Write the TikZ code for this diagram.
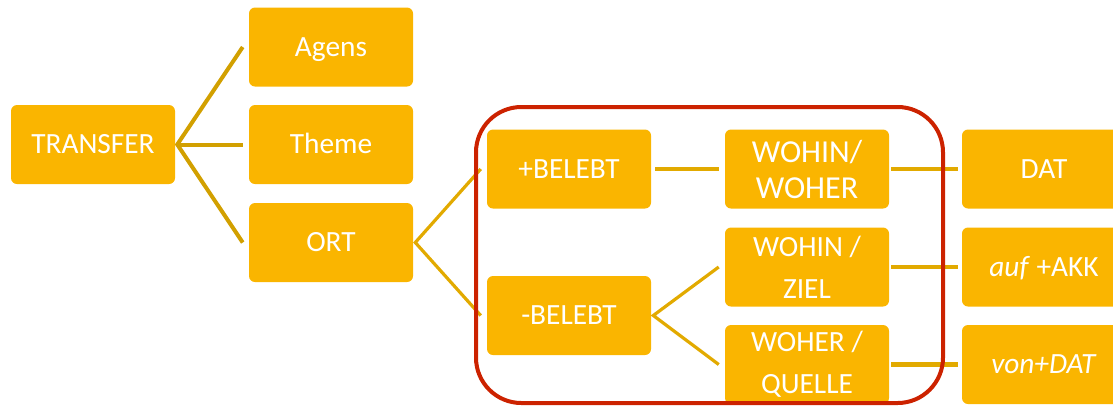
\documentclass[tikz,border=0pt]{standalone}
\usepackage{fontspec}
\setmainfont{Carlito}
\definecolor{boxc}{RGB}{250,181,0}
\definecolor{connA}{RGB}{210,160,0}
\definecolor{connB}{RGB}{226,170,0}
\definecolor{redc}{RGB}{204,34,0}
\begin{document}
\begin{tikzpicture}[x=0.75pt,y=-0.75pt,
  box/.style={rectangle, rounded corners=4.5pt, fill=boxc, text=white,
    minimum width=123pt, minimum height=59.25pt, inner sep=0pt, align=center,
    font=\fontsize{22}{26}\selectfont},
  one/.style={box, text height=14pt, text depth=0pt},
  bigtext/.style={font=\fontsize{24}{27}\selectfont},
  widetext/.style={font=\fontsize{22}{31.5}\selectfont},
  connone/.style={draw=connA, line width=3pt},
  conntwo/.style={draw=connB, line width=2.4pt},
  connthree/.style={draw=connB, line width=3.2pt},
  frame/.style={draw=redc, line width=3pt, rounded corners=34pt}]
\useasboundingbox (0,0) rectangle (1113,405);
\node[one] (tr) at (93,144.5) {TRANSFER};
\node[one] (ag) at (331,47) {Agens};
\node[one] (th) at (331,144.5) {Theme};
\node[one] (ort) at (331,242.5) {ORT};
\node[one] (pb) at (569,169) {+BELEBT};
\node[one] (mb) at (569,315.5) {-BELEBT};
\node[box,bigtext] (ww) at (807,169) {WOHIN/\\WOHER};
\node[box,widetext] (wz) at (807,267) {WOHIN /\\ZIEL};
\node[box,widetext] (wq) at (807,364.5) {WOHER /\\QUELLE};
\node[one] (dat) at (1044,169) {DAT};
\node[one] (akk) at (1044,267) {\textit{auf} +AKK};
\node[one] (von) at (1044,364.5) {\textit{von+DAT}};
\coordinate (f1) at ([xshift=1.5pt]tr.east);
\draw[connone] ([xshift=-4.5pt]ag.west) -- (f1) -- ([xshift=-4.5pt]ort.west);
\draw[connone] (f1) -- ([xshift=-4.5pt]th.west);
\coordinate (f2) at ([xshift=1.5pt]ort.east);
\draw[conntwo] ([xshift=-4.5pt]pb.west) -- (f2) -- ([xshift=-4.5pt]mb.west);
\draw[connthree] ([xshift=3pt]pb.east) -- ([xshift=-4.5pt]ww.west);
\coordinate (f3) at ([xshift=1.5pt]mb.east);
\draw[conntwo] ([xshift=-4.5pt]wz.west) -- (f3) -- ([xshift=-4.5pt]wq.west);
\draw[connthree] ([xshift=1.5pt]ww.east) -- ([xshift=-3pt]dat.west);
\draw[connthree] ([xshift=1.5pt]wz.east) -- ([xshift=-3pt]akk.west);
\draw[connthree] ([xshift=1.5pt]wq.east) -- ([xshift=-3pt]von.west);
\draw[frame] (476,107) rectangle (943,403);
\end{tikzpicture}
\end{document}
